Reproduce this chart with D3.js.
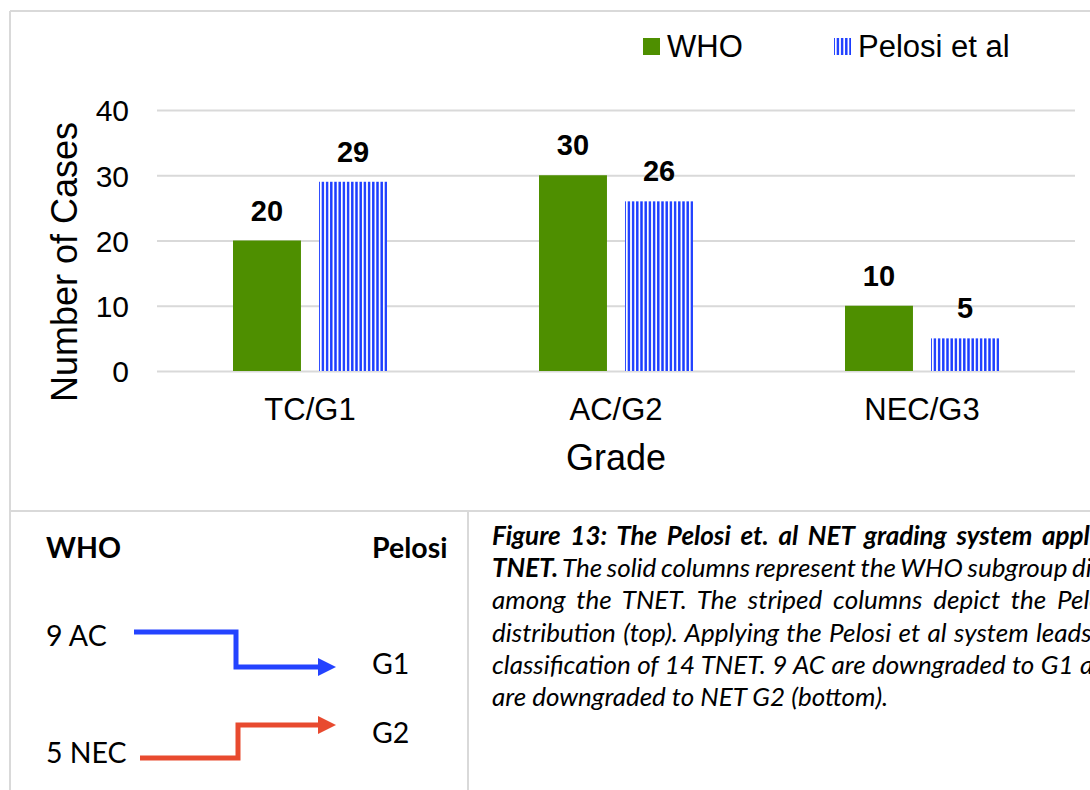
<!DOCTYPE html>
<html>
<head>
<meta charset="utf-8">
<script src="https://cdn.jsdelivr.net/npm/d3@7"></script>
<style>
  body { margin: 0; background: #fff; overflow: hidden; }
  svg { display: block; }
</style>
</head>
<body>
<div id="wrapper"></div>
<script>
// data
const categories = ["TC/G1", "AC/G2", "NEC/G3"]
const series = ["WHO", "Pelosi et al"]
const whoValues = [20, 30, 10]
const pelosiValues = [29, 26, 5]
const yTicks = [0, 10, 20, 30, 40]

// regrading diagram (bottom left)
const whoGroups = ["9 AC", "5 NEC"]
const pelosiGroups = ["G1", "G2"]

// caption lines (the figure is cut off at the right edge)
const captionBold = ["Figure 13: The Pelosi et. al NET grading system applied to the", "TNET.", "", "", "", ""]
const captionText = ["", " The solid columns represent the WHO subgroup distribution",
  "among the TNET. The striped columns depict the Pelosi et al",
  "distribution (top). Applying the Pelosi et al system leads to the re-",
  "classification of 14 TNET. 9 AC are downgraded to G1 and 5 NEC",
  "are downgraded to NET G2 (bottom)."]

const colors = { who: "#4e8f00", pelosi: "#1a3cff", grid: "#d9d9d9", up: "#2443ff", down: "#e84a2f" }

const dimensions = {
  width: 1090,
  height: 790,
  plot: { left: 157, right: 1075, top: 110, bottom: 371 },
}

const svg = d3.select("#wrapper").append("svg")
    .attr("width", dimensions.width)
    .attr("height", dimensions.height)

// stripes for the Pelosi columns
const defs = svg.append("defs")
const pattern = defs.append("pattern")
    .attr("id", "stripes")
    .attr("patternUnits", "userSpaceOnUse")
    .attr("width", 4.2)
    .attr("height", 10)
pattern.append("rect")
    .attr("width", 4.2).attr("height", 10).attr("fill", "#fff")
pattern.append("rect")
    .attr("x", 0.9).attr("width", 2.4).attr("height", 10).attr("fill", colors.pelosi)

// frame lines
const frame = svg.append("g")
    .attr("stroke", colors.grid)
    .attr("stroke-width", 2)
frame.append("line").attr("x1", 10).attr("x2", 1090).attr("y1", 11).attr("y2", 11)
frame.append("line").attr("x1", 10).attr("x2", 10).attr("y1", 11).attr("y2", 790)
frame.append("line").attr("x1", 10).attr("x2", 1090).attr("y1", 511).attr("y2", 511)
frame.append("line").attr("x1", 468).attr("x2", 468).attr("y1", 511).attr("y2", 790)

// scales
const yScale = d3.scaleLinear()
    .domain([0, 40])
    .range([dimensions.plot.bottom, dimensions.plot.top])

const xScale = d3.scaleBand()
    .domain(categories)
    .range([dimensions.plot.left, dimensions.plot.right])

const subScale = d3.scaleBand()
    .domain(series)
    .range([76, 230])
    .paddingInner(0.21)

const plotWidth = dimensions.plot.right - dimensions.plot.left

// y axis with gridlines
const yAxis = svg.append("g")
    .attr("transform", `translate(${dimensions.plot.left},0)`)
    .call(d3.axisLeft(yScale).tickValues(yTicks).tickSize(-plotWidth).tickPadding(28))
yAxis.select(".domain").remove()
yAxis.selectAll(".tick line")
    .attr("stroke", colors.grid)
    .attr("stroke-width", 2)
yAxis.selectAll(".tick text")
    .attr("font-family", "'Liberation Sans', Arial, sans-serif")
    .attr("font-size", 30)
    .attr("fill", "#000")
    .attr("dy", "0.36em")

// bars
const rows = categories.map((c, i) => ({ category: c, values: [whoValues[i], pelosiValues[i]] }))

const groups = svg.append("g").selectAll("g")
    .data(rows).enter().append("g")
        .attr("transform", d => `translate(${xScale(d.category)},0)`)

groups.selectAll("rect")
    .data(d => d.values.map((v, j) => ({ key: series[j], value: v })))
    .enter().append("rect")
        .attr("x", d => subScale(d.key))
        .attr("y", d => yScale(d.value))
        .attr("width", subScale.bandwidth())
        .attr("height", d => yScale(0) - yScale(d.value))
        .attr("fill", d => d.key == "WHO" ? colors.who : "url(#stripes)")

groups.selectAll("text")
    .data(d => d.values.map((v, j) => ({ key: series[j], value: v })))
    .enter().append("text")
        .attr("x", d => subScale(d.key) + subScale.bandwidth() / 2)
        .attr("y", d => yScale(d.value) - 20)
        .attr("text-anchor", "middle")
        .attr("font-family", "'Liberation Sans', Arial, sans-serif")
        .attr("font-weight", "bold")
        .attr("font-size", 29)
        .text(d => d.value)

// x axis labels
const xAxis = svg.append("g")
    .attr("transform", `translate(0,${dimensions.plot.bottom})`)
    .call(d3.axisBottom(xScale).tickSize(0))
xAxis.select(".domain").remove()
xAxis.selectAll(".tick text")
    .attr("y", 49)
    .attr("dy", null)
    .attr("font-family", "'Liberation Sans', Arial, sans-serif")
    .attr("font-size", 31)
    .attr("fill", "#000")

// axis titles
svg.append("text")
    .attr("x", 616)
    .attr("y", 470)
    .attr("text-anchor", "middle")
    .attr("font-family", "'Liberation Sans', Arial, sans-serif")
    .attr("font-size", 36)
    .text("Grade")

svg.append("text")
    .attr("transform", "translate(77,262) rotate(-90)")
    .attr("text-anchor", "middle")
    .attr("font-family", "'Liberation Sans', Arial, sans-serif")
    .attr("font-size", 36)
    .text("Number of Cases")

// legend
const legend = svg.append("g")
    .attr("font-family", "'Liberation Sans', Arial, sans-serif")
    .attr("font-size", 31)
const legendX = [643, 834]
series.forEach((s, i) => {
  legend.append("rect")
      .attr("x", legendX[i])
      .attr("y", 38)
      .attr("width", 17)
      .attr("height", 17)
      .attr("fill", i == 0 ? colors.who : "url(#stripes)")
  legend.append("text")
      .attr("x", legendX[i] + 24)
      .attr("y", 57)
      .text(s)
})

// regrading diagram
const diagram = svg.append("g")
    .attr("font-family", "Lato, 'Open Sans', sans-serif")
    .attr("font-size", 28.5)
diagram.append("text").attr("x", 46).attr("y", 558).attr("font-weight", "bold").text("WHO")
diagram.append("text").attr("x", 372).attr("y", 558).attr("font-weight", "bold").text("Pelosi")

const whoY = d3.scalePoint().domain(whoGroups).range([646, 763])
const pelosiY = d3.scalePoint().domain(pelosiGroups).range([674, 743])

diagram.selectAll(".who")
    .data(whoGroups).enter().append("text")
        .attr("x", 46)
        .attr("y", d => whoY(d))
        .text(d => d)
diagram.selectAll(".pelosi")
    .data(pelosiGroups).enter().append("text")
        .attr("x", 372)
        .attr("y", d => pelosiY(d))
        .text(d => d)

// arrow routes: start x, step x, start y, end y
const moves = whoGroups.map((w, i) => ({ from: w, to: pelosiGroups[i], color: i == 0 ? colors.up : colors.down }))
const route = [
  { x0: 134, xs: 236, y0: 632, y1: 667 },
  { x0: 140, xs: 238, y0: 758, y1: 725 },
]

moves.forEach((m, i) => {
  const r = route[i]
  diagram.append("path")
      .attr("d", `M${r.x0},${r.y0}H${r.xs}V${r.y1}H320`)
      .attr("fill", "none")
      .attr("stroke", m.color)
      .attr("stroke-width", 5)
  diagram.append("path")
      .attr("d", `M318,${r.y1 - 9}L336,${r.y1}L318,${r.y1 + 9}Z`)
      .attr("fill", m.color)
})

// caption: justified lines, the column runs off the page.
// for each justified line, which word and where it should start (layout only)
const justifyAt = [
  { word: 9, x: 1042 },
  { word: 8, x: 1072 },
  { word: 8, x: 1057 },
  { word: 8, x: 1036 },
  { word: 10, x: 1080 },
]
const caption = svg.append("g")
    .attr("font-family", "Lato, 'Open Sans', sans-serif")
    .attr("font-size", 26)
    .attr("font-style", "italic")

captionText.forEach((t, i) => {
  const line = caption.append("text")
      .attr("x", 492)
      .attr("y", 545 + i * 32.2)
  line.append("tspan").attr("font-weight", "bold").text(captionBold[i])
  line.append("tspan").text(t)
  const j = justifyAt[i]
  if (j) {
    const full = captionBold[i] + t
    const starts = [...full.matchAll(/\S+/g)].map(m => m.index)
    const p0 = line.node().getStartPositionOfChar(starts[j.word]).x
    line.style("word-spacing", `${(j.x - p0) / j.word}px`)
  }
})
</script>
</body>
</html>
